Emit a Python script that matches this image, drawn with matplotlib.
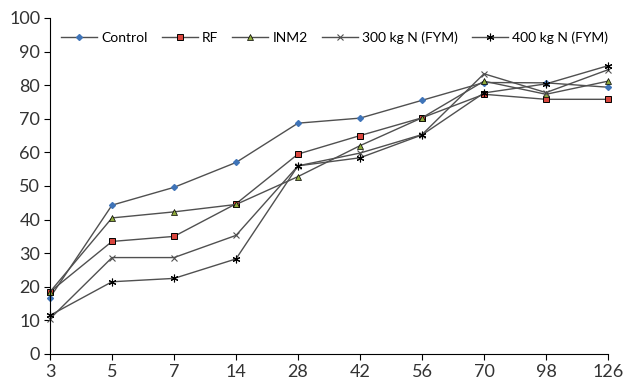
import matplotlib
matplotlib.use("Agg")
import matplotlib.pyplot as plt

days = ["3", "5", "7", "14", "28", "42", "56", "70", "98", "126"]
control = [16.8, 44.3, 49.6, 57.0, 68.7, 70.2, 75.5, 80.8, 80.7, 79.4]
rf = [18.5, 33.5, 35.0, 44.7, 59.5, 65.0, 70.3, 77.3, 75.8, 75.8]
inm2 = [18.5, 40.5, 42.3, 44.5, 52.8, 62.0, 70.3, 81.2, 77.3, 81.2]
fym300 = [10.5, 28.7, 28.7, 35.3, 56.0, 59.8, 65.3, 83.4, 77.8, 84.6]
fym400 = [11.5, 21.5, 22.5, 28.3, 56.0, 58.4, 65.2, 77.7, 80.4, 85.8]

plt.rcParams["font.family"] = ["Lato", "DejaVu Sans"]

fig = plt.figure(figsize=(6.3, 3.86), dpi=100)
ax = fig.add_axes([50 / 630, 32 / 386, 558 / 630, 336 / 386])

x = range(len(days))
lc = "#505050"
ax.plot(x, control, color=lc, lw=1, marker="D", ms=3, mfc="#3f74b8", mec="#3f74b8", label="Control")
ax.plot(x, rf, color=lc, lw=1, marker="s", ms=4.5, mfc="#d9463e", mec="black", mew=0.7, label="RF")
ax.plot(x, inm2, color=lc, lw=1, marker="^", ms=4.5, mfc="#8faa3c", mec="black", mew=0.5, label="INM2")
ax.plot(x, fym300, color=lc, lw=1, marker="x", ms=4.5, mec="#505050", mew=0.8, label="300 kg N (FYM)")
ax.plot(x, fym400, color=lc, lw=1, marker=(6, 2, 0), ms=5.5, mec="black", mew=0.8, label="400 kg N (FYM)")

ax.set_xlim(0, len(days) - 1)
ax.set_ylim(0, 100)
ax.set_xticks(list(x))
ax.set_xticklabels(days)
ax.set_yticks(range(0, 101, 10))
ax.spines["top"].set_visible(False)
ax.spines["right"].set_visible(False)
ax.spines["left"].set_clip_on(False)
ax.tick_params(axis="both", labelsize=13, length=4, colors="black", labelcolor="#333333")
ax.tick_params(axis="x", pad=3)
ax.tick_params(axis="y", pad=3)
for l in ax.get_lines():
    l.set_clip_on(False)

ax.legend(loc="upper center", bbox_to_anchor=(0.51, 0.99), ncol=5, frameon=False,
          fontsize=10, handlelength=2.6, handletextpad=0.3, columnspacing=1.0, borderaxespad=0.3)

fig.savefig("out.png", dpi=100)
